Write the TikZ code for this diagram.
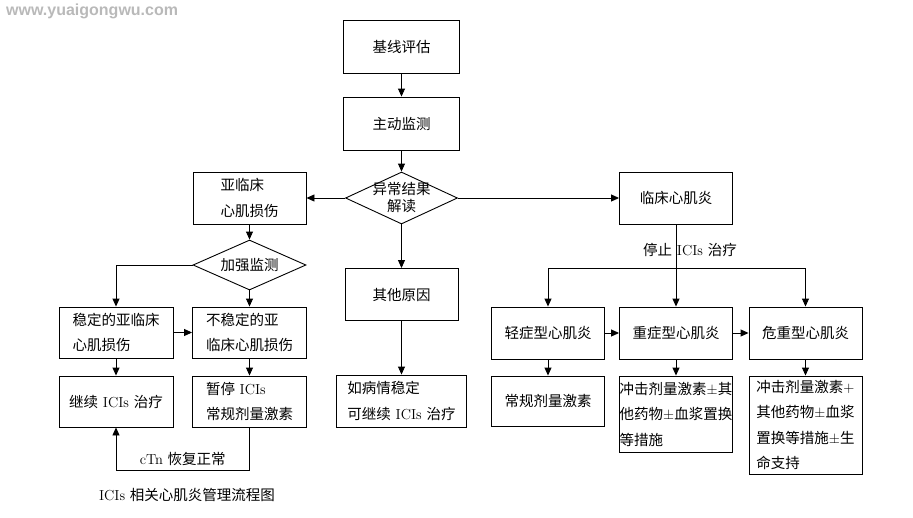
\documentclass[tikz,border=0pt]{standalone}
\usepackage{fontspec}
\newfontfamily\cjk{Noto Sans CJK SC}
\newfontfamily\wmfont{Liberation Sans}
\usetikzlibrary{arrows.meta,shapes.geometric}
\definecolor{wmgray}{RGB}{185,185,185}
\newcommand\lat[1]{{\rmfamily #1}}

\begin{document}
\begin{tikzpicture}[x=1pt, y=-1pt,
    box/.style={draw, line width=0.9pt, minimum width=113pt, minimum height=52pt,
        inner sep=0pt, align=left, font=\cjk\fontsize{14.5}{25.5}\selectfont},
    dmd/.style={draw, diamond, line width=0.9pt, minimum width=112pt,
        minimum height=52pt, inner sep=0pt},
    txt/.style={inner sep=0pt, align=center, font=\cjk\fontsize{14.5}{17}\selectfont},
    arr/.style={line width=0.9pt, -{Triangle[length=8pt,width=7pt]}},
    ln/.style={line width=0.9pt}]
    \useasboundingbox (0,0) rectangle (913,517);

    % 水印
    \node[text=wmgray, font=\wmfont\bfseries\fontsize{16}{17}\selectfont, inner sep=0pt, anchor=west]
        (wm) at (6,11) {www.yuaigongwu.com};

    % 主干
    \node[box, minimum width=116pt, minimum height=53pt] (base) at (401.5,46.5) {基线评估};
    \node[box, minimum width=116pt, minimum height=53pt] (mon) at (401.5,123.5) {主动监测};
    \node[dmd] (abn) at (401.5,198) {};
    \node[txt] (abnt) at (abn) {异常结果\\解读};

    % 左边：亚临床
    \node[box] (sub) at (249.5,198) {亚临床\\心肌损伤};
    \node[dmd, minimum width=113pt, minimum height=50pt] (inten) at (249.5,265) {};
    \node[txt] (intent) at (inten) {加强监测};
    \node[box, minimum width=114pt, minimum height=51pt] (stab) at (116,332.5) {稳定的亚临床\\心肌损伤};
    \node[box, minimum width=114pt, minimum height=51pt] (unst) at (249.5,332.5) {不稳定的亚\\临床心肌损伤};
    \node[box, minimum width=114pt, minimum height=51pt] (cont) at (116,401.5) {继续\lat{ ICIs }治疗};
    \node[box, minimum width=114pt, minimum height=51pt] (paus) at (249.5,401.5) {暂停\lat{ ICIs}\\常规剂量激素};

    % 中间：其他原因
    \node[box] (oth) at (401.5,294.5) {其他原因};
    \node[box, minimum width=130pt] (stbl) at (401.5,401) {如病情稳定\\可继续\lat{ ICIs }治疗};

    % 右边：临床心肌炎
    \node[box] (clin) at (676,198) {临床心肌炎};
    \coordinate (fork) at (676,268);
    \node[txt] (stop) at (690,250) {停止\lat{ ICIs }治疗};
    \node[box] (mild) at (548,333) {轻症型心肌炎};
    \node[box] (sev) at (676,333) {重症型心肌炎};
    \node[box] (crit) at (805.5,333) {危重型心肌炎};
    \node[box, minimum height=50pt] (mildt) at (548,401) {常规剂量激素};
    \node[box, minimum height=76pt] (sevt) at (676,414) {冲击剂量激素\lat{±}其\\他药物\lat{±}血浆置换\\等措施};
    \node[box, minimum height=98pt] (critt) at (805.5,425) {冲击剂量激素\lat{+}\\其他药物\lat{±}血浆\\置换等措施\lat{±}生\\命支持};

    % 标题
    \node[txt] (cap) at (187,495) {\lat{ICIs }相关心肌炎管理流程图};

    % 连线
    \draw[arr] (base) -- (mon);
    \draw[arr] (mon) -- (abn);
    \draw[arr] (abn) -- (sub);
    \draw[arr] (abn) -- (clin);
    \draw[arr] (abn) -- (oth);
    \draw[arr] (oth) -- (stbl);
    \draw[arr] (sub) -- (inten);
    \draw[arr] (inten.west) -| (stab.north);
    \draw[arr] (inten) -- (unst);
    \draw[arr] (stab) -- (unst);
    \draw[arr] (stab) -- (cont);
    \draw[arr] (unst) -- (paus);
    \draw[arr] (paus.south) -- ++(0,43) -| node[txt, pos=.25, above=4pt] (ctn) {\lat{cTn }恢复正常} (cont.south);
    \draw[arr] (clin) -- (sev);
    \draw[arr] (fork) -| (mild.north);
    \draw[arr] (fork) -| (crit.north);
    \draw[arr] (mild) -- (sev);
    \draw[arr] (sev) -- (crit);
    \draw[arr] (mild) -- (mildt);
    \draw[arr] (sev) -- (sevt);
    \draw[arr] (crit) -- (critt);
\end{tikzpicture}
\end{document}
